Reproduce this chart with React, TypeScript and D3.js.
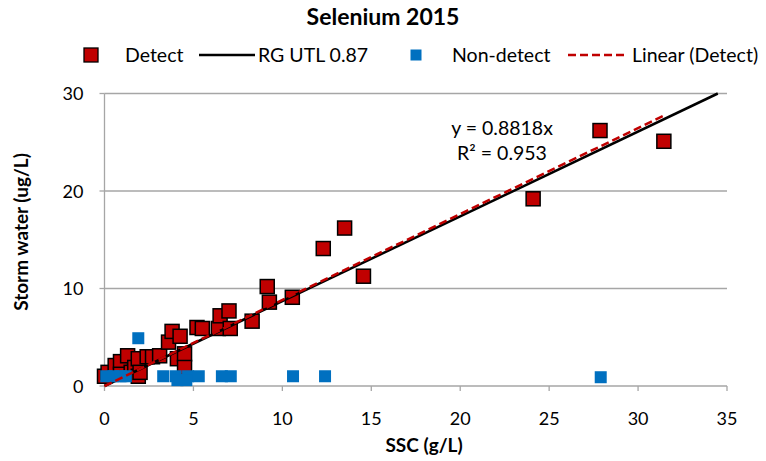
import React from "react";
import * as d3 from "d3";

// Detect samples (SSC g/L, storm water ug/L)
const detectX = [0, 0.2, 0.6, 0.9, 0.9, 1.3, 1.5, 1.7, 1.9, 1.9, 2.0, 2.4, 2.7, 3.1, 3.6, 3.8, 4.1, 4.25, 4.5, 4.5, 5.2, 5.5, 6.4, 6.5, 7.0, 7.07, 8.3, 9.15, 9.27, 10.56, 12.3, 13.5, 14.56, 24.1, 27.86, 31.45];
const detectY = [1.0, 1.4, 2.1, 2.5, 1.2, 3.1, 1.4, 1.9, 1.0, 2.8, 1.4, 3.0, 3.0, 3.1, 4.5, 5.6, 2.8, 5.1, 3.3, 1.9, 6.0, 5.9, 5.9, 7.2, 7.7, 5.9, 6.65, 10.2, 8.6, 9.1, 14.1, 16.2, 11.26, 19.2, 26.2, 25.1];

// Non-detect samples
const nonDetectX = [0.1, 0.5, 0.9, 1.2, 1.9, 3.3, 4.0, 4.7, 5.3, 4.1, 4.6, 6.6, 7.1, 10.6, 12.4, 27.9];
const nonDetectY = [1.0, 1.0, 1.0, 1.0, 4.9, 1.0, 1.0, 1.0, 1.0, 0.6, 0.6, 1.0, 1.0, 1.0, 1.0, 0.9];

const xTicks = [0, 5, 10, 15, 20, 25, 30, 35];
const yTicks = [0, 10, 20, 30];
const utlSlope = 0.87;
const trendSlope = 0.8818;
const legendLabels = ["Detect", "RG UTL 0.87", "Non-detect", "Linear (Detect)"];

const W = 766;
const H = 461;
const margin = { top: 93.5, right: 39, bottom: 75, left: 104.5 };
const font = "Lato, 'Open Sans', sans-serif";

export default function App() {
  const x = d3.scaleLinear().domain([0, 35]).range([margin.left, W - margin.right]);
  const y = d3.scaleLinear().domain([0, 30]).range([H - margin.bottom, margin.top]);

  const detect = detectX.map((d, i) => ({ x: d, y: detectY[i] }));
  const nonDetect = nonDetectX.map((d, i) => ({ x: d, y: nonDetectY[i] }));

  const line = d3
    .line<[number, number]>()
    .x((d) => x(d[0]))
    .y((d) => y(d[1]));

  const utlEnd = 30 / utlSlope;
  const utlPath = line([
    [0, 0],
    [utlEnd, 30],
  ]);
  const maxX = d3.max(detectX) || 0;
  const trendPath = line([
    [0, 0],
    [maxX, maxX * trendSlope],
  ]);

  const grey = "#a6a6a6";
  const red = "#c00000";
  const blue = "#0070c0";
  const rs = 14;
  const bs = 12;
  const ly = 55;
  const fs = 19.5;

  return (
    <div style={{ position: "absolute", left: 0, top: 0 }}>
      <svg width={W} height={H} style={{ display: "block", background: "#fff" }}>
        <text x={383} y={25} textAnchor="middle" fontFamily={font} fontWeight="bold" fontSize={23} fill="#000">
          Selenium 2015
        </text>

        {/* legend */}
        <rect x={91 - 7} y={ly - 7} width={14} height={14} fill={red} stroke="#000" strokeWidth={1.3} />
        <text x={125} y={ly + 7} fontFamily={font} fontSize={fs}>{legendLabels[0]}</text>
        <line x1={199} x2={255} y1={ly} y2={ly} stroke="#000" strokeWidth={2.5} />
        <text x={258} y={ly + 7} fontFamily={font} fontSize={fs}>{legendLabels[1]}</text>
        <rect x={416 - 5.5} y={ly - 5.5} width={11} height={11} fill={blue} />
        <text x={452} y={ly + 7} fontFamily={font} fontSize={fs}>{legendLabels[2]}</text>
        <line x1={568} x2={626} y1={ly} y2={ly} stroke={red} strokeWidth={2.5} strokeDasharray="8,4" />
        <text x={632} y={ly + 7} fontFamily={font} fontSize={fs}>{legendLabels[3]}</text>

        {/* grid */}
        {yTicks.slice(1).map((t) => (
          <line key={t} x1={x(0)} x2={x(35)} y1={y(t)} y2={y(t)} stroke={grey} strokeWidth={1.3} />
        ))}

        {/* axes */}
        <line x1={x(0)} x2={x(0)} y1={y(0)} y2={y(30)} stroke={grey} strokeWidth={1.3} />
        <line x1={x(0)} x2={x(35)} y1={y(0)} y2={y(0)} stroke={grey} strokeWidth={1.3} />
        {yTicks.map((t) => (
          <g key={t}>
            <line x1={x(0) - 5} x2={x(0)} y1={y(t)} y2={y(t)} stroke={grey} strokeWidth={1.3} />
            <text x={x(0) - 21} y={y(t) + 6.5} textAnchor="end" fontFamily={font} fontSize={18}>{t}</text>
          </g>
        ))}
        {xTicks.map((t) => (
          <g key={t}>
            <line x1={x(t)} x2={x(t)} y1={y(0)} y2={y(0) + 5} stroke={grey} strokeWidth={1.3} />
            <text x={x(t)} y={y(0) + 39} textAnchor="middle" fontFamily={font} fontSize={18}>{t}</text>
          </g>
        ))}

        <text x={424} y={452} textAnchor="middle" fontFamily={font} fontWeight="bold" fontSize={19}>
          SSC (g/L)
        </text>
        <text
          transform={`translate(28,232) rotate(-90)`}
          textAnchor="middle"
          fontFamily={font}
          fontWeight="bold"
          fontSize={19}
        >
          Storm water (ug/L)
        </text>

        {/* detect */}
        {detect.map((d, i) => (
          <rect key={i} x={x(d.x) - rs / 2} y={y(d.y) - rs / 2} width={rs} height={rs} fill={red} stroke="#000" strokeWidth={1.5} />
        ))}

        <path d={utlPath || ""} fill="none" stroke="#000" strokeWidth={2.5} />

        {/* non-detect */}
        {nonDetect.map((d, i) => (
          <rect key={i} x={x(d.x) - bs / 2} y={y(d.y) - bs / 2} width={bs} height={bs} fill={blue} />
        ))}

        <path d={trendPath || ""} fill="none" stroke={red} strokeWidth={2.5} strokeDasharray="8,4" />

        <text x={502} y={135} textAnchor="middle" fontFamily={font} fontSize={fs}>y = 0.8818x</text>
        <text x={502} y={160} textAnchor="middle" fontFamily={font} fontSize={fs}>R² = 0.953</text>
      </svg>
    </div>
  );
}
